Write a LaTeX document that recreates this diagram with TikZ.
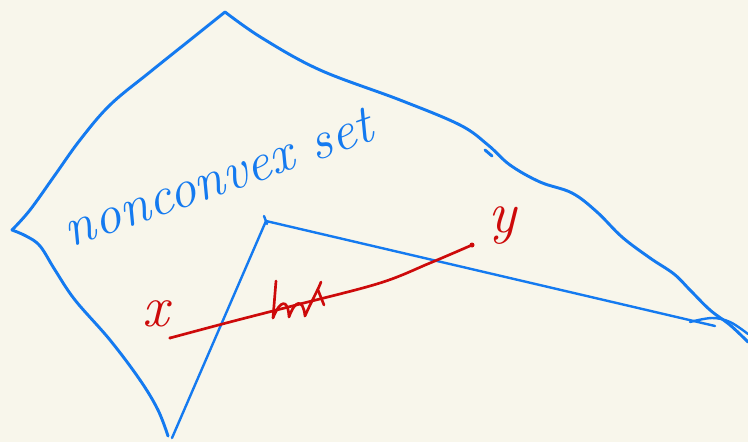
\documentclass[tikz,border=0pt]{standalone}
\usepackage{fontspec}
\definecolor{bg}{RGB}{248,246,235}
\definecolor{pen}{RGB}{20,122,240}
\definecolor{ink}{RGB}{205,10,10}
\tikzset{
  bluestroke/.style={draw=pen, line width=2.2pt, line cap=round, line join=round},
  thinblue/.style={draw=pen, line width=1.8pt, line cap=round, line join=round},
  redstroke/.style={draw=ink, line width=2pt, line cap=round, line join=round},
  hand/.style={inner sep=0pt}
}
\begin{document}
\begin{tikzpicture}[x=0.75pt,y=-0.75pt]
\fill[bg] (0,0) rectangle (748,442);
\useasboundingbox (0,0) rectangle (748,442);
% outer boundary
\coordinate (top) at (225,12);
\coordinate (left) at (12,230);
\coordinate (bottom) at (168,436);
\coordinate (rightend) at (748,342);
\draw[bluestroke] plot[smooth, tension=0.6] coordinates {(225,12) (262,38) (320,70) (400,100) (460,125) (488,145) (510,165) (540,182) (572,193) (597,212) (622,237) (650,258) (674,274) (690,290) (710,310) (730,325) (748,342)};
\draw[bluestroke] (485,150) -- (492,156);
\draw[bluestroke] plot[smooth, tension=0.6] coordinates {(225,12) (190,40) (150,72) (110,105) (80,140) (55,175) (30,210) (12,230)};
\draw[bluestroke] plot[smooth, tension=0.6] coordinates {(12,230) (26,236) (40,246) (55,270) (75,300) (110,340) (140,380) (158,410) (168,436)};
% inner notch
\coordinate (notch) at (266,221);
\draw[thinblue] (172,438) -- (notch) -- (715,326);
\draw[thinblue] (264,216) -- (267,224);
\draw[thinblue] plot[smooth, tension=0.6] coordinates {(690,322) (712,318) (730,322) (748,334)};
% text
\node[hand, text=pen, rotate=19.5, font=\fontsize{41}{43}\selectfont\itshape] (lbl) at (218,178) {nonconvex set};
% red segment
\coordinate (px) at (170,338);
\coordinate (py) at (472,245);
\draw[redstroke] plot[smooth, tension=0.6] coordinates {(px) (230,322) (300,304) (380,283) (430,263) (py)};
\fill[ink] (py) circle (2.5);
\fill[ink] (px) circle (1.6);
\node[hand, text=ink, font=\fontsize{44}{46}\selectfont\itshape] (xl) at (156,314) {x};
\node[hand, text=ink, font=\fontsize{44}{46}\selectfont\itshape] (yl) at (502,226) {y};
% hatch marks
\draw[redstroke] (276,281) -- (273,318) .. controls (280,300) and (288,298) .. (289,317)
  .. controls (295,300) and (303,298) .. (305,316) .. controls (312,300) and (318,290) .. (321,282);
\draw[redstroke] (318,290) -- (324,305);
\end{tikzpicture}
\end{document}
